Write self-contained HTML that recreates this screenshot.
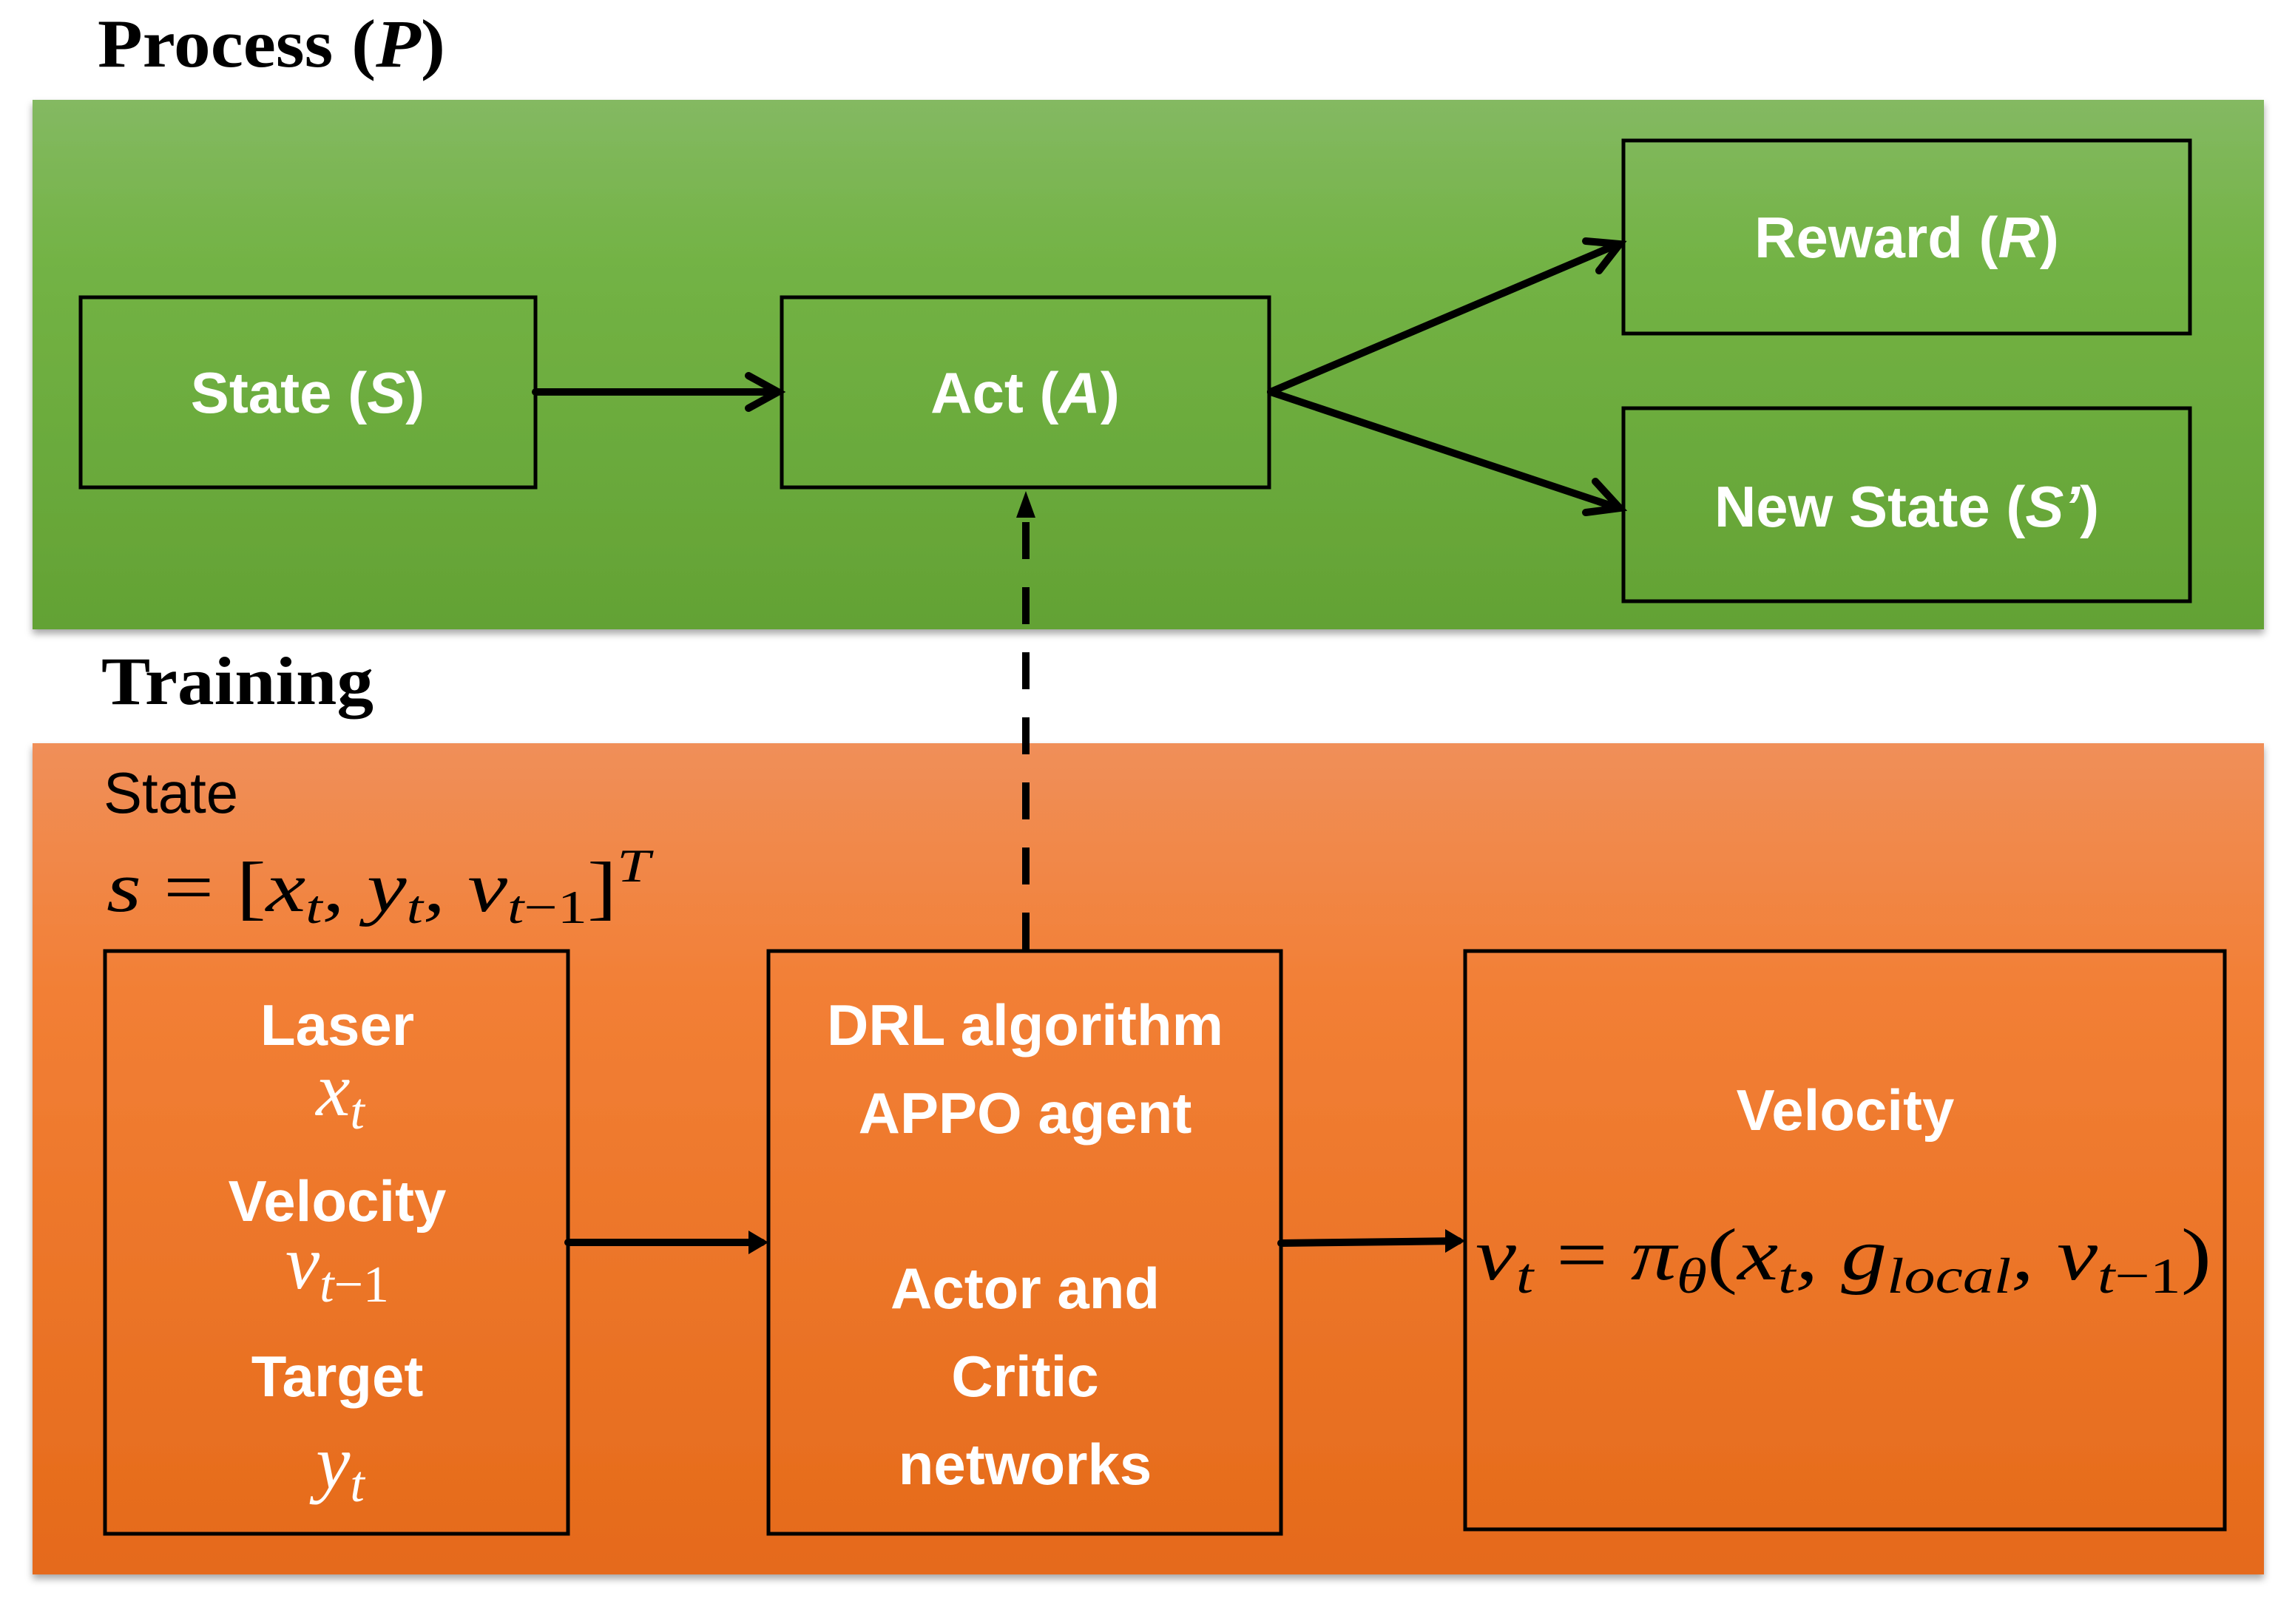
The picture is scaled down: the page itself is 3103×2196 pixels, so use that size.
<!DOCTYPE html>
<html><head><meta charset="utf-8"><style>html,body{margin:0;padding:0;background:#fff}</style></head>
<body>
<svg width="3103" height="2191" viewBox="0 0 3103 2191" xmlns="http://www.w3.org/2000/svg">
<defs>
<linearGradient id="g" x1="0" y1="0" x2="0" y2="1"><stop offset="0" stop-color="#84b962"/><stop offset="0.3" stop-color="#73b345"/><stop offset="1" stop-color="#63a234"/></linearGradient>
<linearGradient id="o" x1="0" y1="0" x2="0" y2="1"><stop offset="0" stop-color="#f08f59"/><stop offset="0.3" stop-color="#f27f35"/><stop offset="1" stop-color="#e56a1a"/></linearGradient>
<filter id="sh" x="-5%" y="-5%" width="110%" height="115%"><feDropShadow dx="0" dy="6" stdDeviation="5" flood-color="#000" flood-opacity="0.35"/></filter>
</defs>
<g font-family="Liberation Serif, serif" font-weight="bold" font-size="92" fill="#000">
<text x="132" y="90" textLength="470" lengthAdjust="spacingAndGlyphs">Process (<tspan font-style="italic">P</tspan>)</text>
<text x="137" y="952" textLength="368" lengthAdjust="spacingAndGlyphs">Training</text>
</g>
<rect x="44" y="135" width="3017" height="716" fill="url(#g)" filter="url(#sh)"/>
<rect x="44" y="1005" width="3017" height="1124" fill="url(#o)" filter="url(#sh)"/>
<g fill="none" stroke="#000" stroke-width="5">
<rect x="109" y="402" width="615" height="257"/>
<rect x="1057" y="402" width="659" height="257"/>
<rect x="2195" y="190" width="766" height="261"/>
<rect x="2195" y="552" width="766" height="261"/>
<rect x="142" y="1286" width="626" height="788"/>
<rect x="1039" y="1286" width="693" height="788"/>
<rect x="1981" y="1286" width="1027" height="782"/>
</g>
<g stroke="#000" stroke-width="10" fill="none" stroke-linecap="round">
<line x1="724" y1="530" x2="1050" y2="530"/><polyline points="1012,508 1052,530 1012,552"/>
<line x1="1718" y1="530" x2="2188" y2="330"/><polyline points="2144,326 2190,330 2162,366"/>
<line x1="1718" y1="530" x2="2188" y2="687"/><polyline points="2157,651 2190,687 2144,693"/>
<line x1="768" y1="1680" x2="1030" y2="1680"/>
<line x1="1732" y1="1681" x2="1972" y2="1678"/>
<line x1="1387" y1="1284" x2="1387" y2="700" stroke-dasharray="50,38" stroke-linecap="butt"/>
</g>
<g fill="#000">
<polygon points="1039,1680 1012,1664 1012,1696"/>
<polygon points="1981,1678 1954,1662 1954,1694"/>
<polygon points="1387,664 1374,700 1400,700"/>
</g>
<g font-family="Liberation Sans, sans-serif" font-weight="bold" font-size="78" fill="#fff" text-anchor="middle">
<text x="416" y="558">State (<tspan font-style="italic">S</tspan>)</text>
<text x="1386" y="558">Act (<tspan font-style="italic">A</tspan>)</text>
<text x="2578" y="348">Reward (<tspan font-style="italic">R</tspan>)</text>
<text x="2578" y="712">New State (<tspan font-style="italic">S’</tspan>)</text>
<text x="456" y="1413">Laser</text>
<text x="456" y="1651">Velocity</text>
<text x="456" y="1888">Target</text>
<text x="1386" y="1413">DRL algorithm</text>
<text x="1386" y="1532">APPO agent</text>
<text x="1386" y="1769">Actor and</text>
<text x="1386" y="1888">Critic</text>
<text x="1386" y="2007">networks</text>
<text x="2495" y="1528">Velocity</text>
</g>
<text x="140" y="1099" font-family="Liberation Sans, sans-serif" font-size="78" fill="#000">State</text>
<g font-family="Liberation Serif, serif" font-style="italic" fill="#000" font-size="96">
<text x="144" y="1232" textLength="735" lengthAdjust="spacingAndGlyphs">s <tspan font-style="normal">= [</tspan>x<tspan font-size="64" dy="16">t</tspan><tspan dy="-16">, y</tspan><tspan font-size="64" dy="16">t</tspan><tspan dy="-16">, v</tspan><tspan font-size="64" dy="16">t<tspan font-style="normal">−1</tspan></tspan><tspan dy="-16" font-style="normal">]</tspan><tspan font-size="64" dy="-40">T</tspan></text>
</g>
<g font-family="Liberation Serif, serif" font-style="italic" fill="#fff" font-size="104" text-anchor="middle">
<text x="460" y="1508">x<tspan font-size="70" dy="18">t</tspan></text>
<text x="456" y="1742">v<tspan font-size="70" dy="18">t<tspan font-style="normal">−1</tspan></tspan></text>
<text x="460" y="2012">y<tspan font-size="70" dy="18">t</tspan></text>
</g>
<text x="1995" y="1730" font-family="Liberation Serif, serif" font-style="italic" fill="#000" font-size="100" textLength="995" lengthAdjust="spacingAndGlyphs">v<tspan font-size="68" dy="18">t</tspan><tspan dy="-18" font-style="normal"> = </tspan>π<tspan font-size="68" dy="18">θ</tspan><tspan dy="-18" font-style="normal">(</tspan>x<tspan font-size="68" dy="18">t</tspan><tspan dy="-18">, g</tspan><tspan font-size="68" dy="18">local</tspan><tspan dy="-18">, v</tspan><tspan font-size="68" dy="18">t<tspan font-style="normal">−1</tspan></tspan><tspan dy="-18" font-style="normal">)</tspan></text>
</svg>
</body></html>
